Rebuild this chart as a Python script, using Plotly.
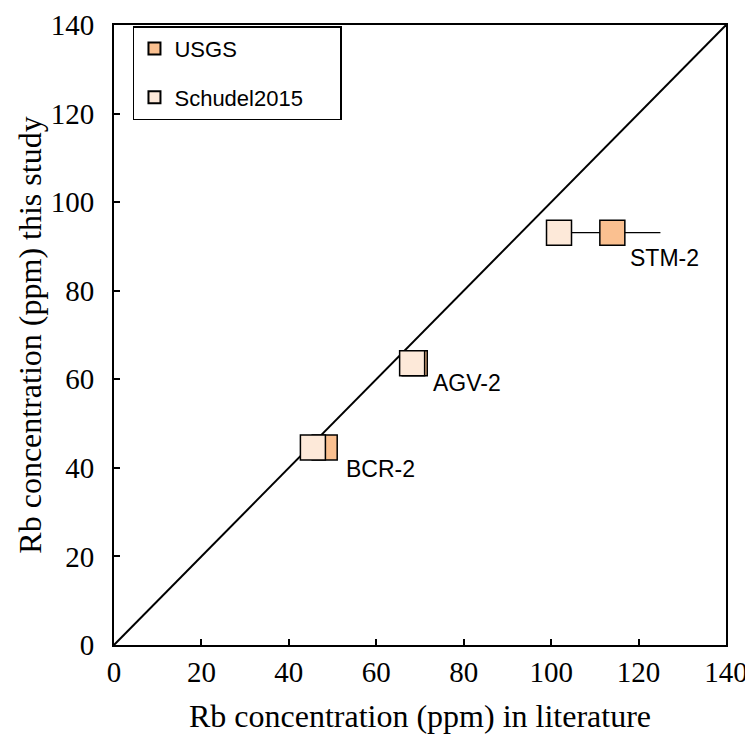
import plotly.graph_objects as go

samples = ["BCR-2", "AGV-2", "STM-2"]
usgs_x = [48.2, 68.8, 114.0]
usgs_err = [0, 0, 11.0]
schudel_x = [45.5, 68.2, 101.8]
this_study_y = [44.6, 63.6, 93.1]
label_x = [52.6, 72.5, 117.6]
label_y = [39.7, 59.2, 87.5]
axis_max = 140
tick_vals = [0, 20, 40, 60, 80, 100, 120, 140]

fig = go.Figure()

# 1:1 line
fig.add_trace(go.Scatter(x=[0, axis_max], y=[0, axis_max], mode="lines",
                         line=dict(color="black", width=2), showlegend=False, hoverinfo="skip"))

fig.add_trace(go.Scatter(
    x=usgs_x, y=this_study_y, mode="markers", name="USGS" + "\u00a0" * 16,
    legendgroup="a",
    marker=dict(symbol="square", size=25, color="#FAC090", line=dict(color="black", width=1.5)),
    error_x=dict(type="data", array=usgs_err, symmetric=True, color="black", thickness=1.2, width=0),
))
fig.add_trace(go.Scatter(
    x=schudel_x, y=this_study_y, mode="markers", name="Schudel2015",
    legendgroup="b",
    marker=dict(symbol="square", size=25, color="#FDE9D9", line=dict(color="black", width=1.5)),
))

for s, lx, ly in zip(samples, label_x, label_y):
    fig.add_annotation(x=lx, y=ly, text=s, showarrow=False, xanchor="left", yanchor="middle",
                       font=dict(family="Liberation Sans, Arial", size=23, color="black"))

axis_common = dict(
    range=[0, axis_max], tickvals=tick_vals, showgrid=False, zeroline=False,
    showline=True, linecolor="black", linewidth=2, mirror=True,
    ticks="inside", ticklen=6, tickwidth=1.5, tickcolor="black", automargin=False,
    ticklabeloverflow="allow",
    tickfont=dict(family="Liberation Serif, Times New Roman", size=29, color="black"),
)

fig.update_layout(
    width=745, height=743,
    margin=dict(l=106, r=27, t=17, b=106),
    paper_bgcolor="white", plot_bgcolor="white",
    showlegend=True,
    legend=dict(x=0.031, y=0.998, xanchor="left", yanchor="top",
                bordercolor="black", borderwidth=1.5, bgcolor="white",
                itemsizing="constant", traceorder="grouped", tracegroupgap=17,
                font=dict(family="Liberation Sans, Arial", size=22, color="black")),
    xaxis=dict(title=dict(text="Rb concentration (ppm) in literature", standoff=18,
                          font=dict(family="Liberation Serif, Times New Roman", size=32, color="black")),
               **axis_common),
    yaxis=dict(title=dict(text="Rb concentration (ppm) this study", standoff=0,
                          font=dict(family="Liberation Serif, Times New Roman", size=32, color="black")),
               ticklabelstandoff=12,
               **axis_common),
)

fig.write_html("out.html")
